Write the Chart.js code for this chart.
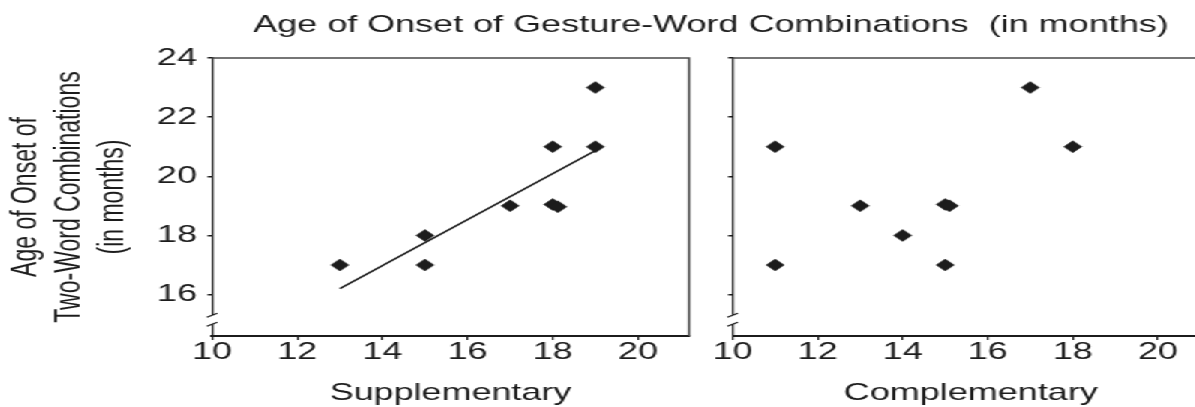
<!DOCTYPE html>
<html>
<head>
<meta charset="utf-8">
<title>Age of Onset of Gesture-Word Combinations</title>
<script src="https://cdn.jsdelivr.net/npm/chart.js@4.4.1/dist/chart.umd.min.js"></script>
<style>
  html, body { margin: 0; padding: 0; background: #fff; overflow: hidden; }
  /* the source figure is stretched sideways, so draw narrow and widen */
  #figure { position: relative; width: 797px; height: 407px; transform: scaleX(1.5); transform-origin: 0 0; }
  #figure canvas { position: absolute; top: 0; }
  #suppChart { left: 0; }
  #compChart { left: 470px; }
</style>
</head>
<body>
<div id="figure">
  <canvas id="suppChart" width="797" height="407"></canvas>
  <canvas id="compChart" width="345" height="407"></canvas>
</div>
<script>
(function () {
  "use strict";

  var FIGURE_TITLE = "Age of Onset of Gesture-Word Combinations  (in months)";
  var Y_TITLE = ["Age of Onset of", "Two-Word Combinations", "(in months)"];

  var xTicks = [10, 12, 14, 16, 18, 20];
  var yTicks = [16, 18, 20, 22, 24];

  // Supplementary combinations (x) vs two-word onset (y)
  var suppX = [13, 15, 15, 17, 18, 18.12, 18, 19, 19];
  var suppY = [17, 18, 17, 19, 19.05, 18.97, 21, 21, 23];

  // fitted line, end points
  var fitX = [13, 19];
  var fitY = [16.2, 20.87];

  // Complementary combinations (x) vs two-word onset (y)
  var compX = [11, 11, 13, 14, 15, 15.1, 15, 17, 18];
  var compY = [21, 17, 19, 18, 19.05, 19, 17, 23, 21];

  var X_MIN = 10, X_MAX = 21.2, Y_MIN = 14.6, Y_MAX = 24;
  var BREAK_LO = 15.0, BREAK_HI = 15.3;

  var FONT = "'Liberation Sans', Arial, Helvetica, sans-serif";
  var INK = "#1c1c1c";
  var FRAME = "#4a4a4a";

  function toPoints(xs, ys) {
    return xs.map(function (x, i) { return { x: x, y: ys[i] }; });
  }

  // top/right frame plus the broken y axis
  var framePlugin = {
    id: "frame",
    afterDraw: function (chart) {
      var a = chart.chartArea;
      var ctx = chart.ctx;
      var ys = chart.scales.y;
      ctx.save();
      ctx.strokeStyle = FRAME;
      ctx.lineWidth = 1.5;
      ctx.beginPath();
      ctx.moveTo(a.left, a.top);
      ctx.lineTo(a.right, a.top);
      ctx.lineTo(a.right, a.bottom);
      ctx.stroke();

      var hi = ys.getPixelForValue(BREAK_HI);
      var lo = ys.getPixelForValue(BREAK_LO);
      ctx.clearRect(a.left - 2, hi, 4, lo - hi);
      ctx.strokeStyle = INK;
      ctx.lineWidth = 1.2;
      [hi, lo].forEach(function (p) {
        ctx.beginPath();
        ctx.moveTo(a.left - 3.5, p + 2);
        ctx.lineTo(a.left + 3.5, p - 2);
        ctx.stroke();
      });
      ctx.restore();
    }
  };

  // overall title sits across both panels
  var figureTitlePlugin = {
    id: "figureTitle",
    afterDraw: function (chart) {
      var ctx = chart.ctx;
      ctx.save();
      ctx.fillStyle = INK;
      ctx.font = "24px " + FONT;
      ctx.textAlign = "center";
      ctx.textBaseline = "middle";
      ctx.fillText(FIGURE_TITLE, 474, 25);
      ctx.restore();
    }
  };

  function buildScales(xTitle, yAxisWidth, showYLabels) {
    return {
      x: {
        type: "linear",
        min: X_MIN,
        max: X_MAX,
        afterBuildTicks: function (s) {
          s.ticks = xTicks.map(function (v) { return { value: v }; });
        },
        afterFit: function (s) { s.height = 71; },
        grid: { drawOnChartArea: false, drawTicks: true, tickLength: 4, color: INK, lineWidth: 1.2 },
        border: { display: true, color: INK, width: 2 },
        ticks: {
          color: INK,
          padding: 0,
          autoSkip: false,
          maxRotation: 0,
          font: { family: FONT, size: 24, lineHeight: 1 }
        },
        title: {
          display: true,
          text: xTitle,
          color: INK,
          padding: 0,
          font: { family: FONT, size: 24, lineHeight: 1.1 }
        }
      },
      y: {
        type: "linear",
        min: Y_MIN,
        max: Y_MAX,
        afterBuildTicks: function (s) {
          s.ticks = yTicks.map(function (v) { return { value: v }; });
        },
        afterFit: function (s) { s.width = yAxisWidth; },
        grid: { drawOnChartArea: false, drawTicks: true, tickLength: 3, color: INK, lineWidth: 1.5 },
        border: { display: true, color: INK, width: 1.3 },
        ticks: {
          display: showYLabels,
          color: INK,
          padding: 7,
          font: { family: FONT, size: 24, lineHeight: 1 }
        },
        title: {
          display: showYLabels,
          text: Y_TITLE,
          color: INK,
          padding: { top: 3, bottom: 0 },
          font: { family: FONT, size: 23, lineHeight: 1.26 }
        }
      }
    };
  }

  function pointDataset(xs, ys) {
    return {
      data: toPoints(xs, ys),
      pointStyle: "rectRot",
      pointRadius: 6,
      backgroundColor: INK,
      borderColor: INK,
      borderWidth: 0.5,
      order: 1
    };
  }

  var common = {
    responsive: false,
    animation: false,
    events: [],
    plugins: { legend: { display: false }, tooltip: { enabled: false }, title: { display: false } }
  };

  function initSupplementary() {
    var canvas = document.getElementById("suppChart");
    new Chart(canvas.getContext("2d"), {
      type: "scatter",
      data: {
        datasets: [
          {
            type: "line",
            data: toPoints(fitX, fitY),
            borderColor: INK,
            borderWidth: 1.5,
            pointRadius: 0,
            fill: false,
            tension: 0,
            order: 2
          },
          pointDataset(suppX, suppY)
        ]
      },
      options: Object.assign({}, common, {
        layout: { padding: { top: 58, right: 797 - 459.5, bottom: 0, left: 0 } },
        scales: buildScales("Supplementary", 141.3, true)
      }),
      plugins: [framePlugin, figureTitlePlugin]
    });
  }

  function initComplementary() {
    var canvas = document.getElementById("compChart");
    new Chart(canvas.getContext("2d"), {
      type: "scatter",
      data: { datasets: [pointDataset(compX, compY)] },
      options: Object.assign({}, common, {
        layout: { padding: { top: 58, right: 9, bottom: 0, left: 0 } },
        scales: buildScales("Complementary", 18.5, false)
      }),
      plugins: [framePlugin]
    });
  }

  initSupplementary();
  initComplementary();
})();
</script>
</body>
</html>
